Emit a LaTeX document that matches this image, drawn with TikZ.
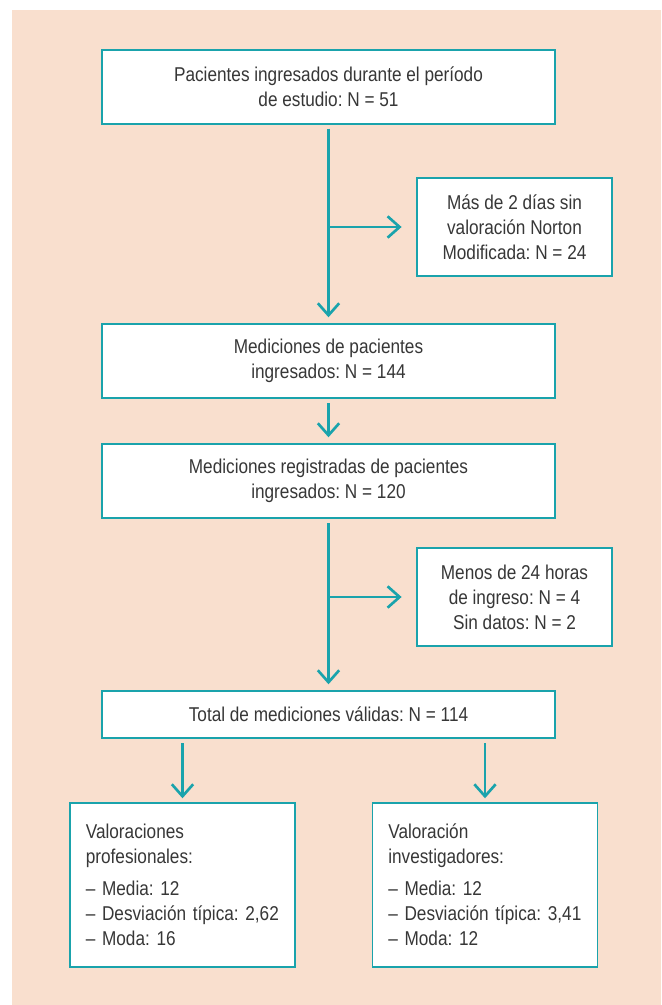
\documentclass[tikz,border=0pt]{standalone}
\usepackage{fontspec}
\setmainfont{Liberation Sans}[FakeStretch=0.86]
\usetikzlibrary{arrows.meta}

\definecolor{peach}{RGB}{249,223,206}
\definecolor{flowteal}{RGB}{26,163,172}
\definecolor{inkgray}{RGB}{55,55,55}
\frenchspacing

\begin{document}
\begin{tikzpicture}[x=0.75pt, y=-0.75pt,
  every node/.style={font=\fontsize{15}{18.75}\selectfont, text=inkgray},
  box/.style={draw=flowteal, line width=1.1pt, fill=white, align=center, inner sep=0pt},
  sidebox/.style={box, minimum width=146.25pt, minimum height=73.5pt},
  mainbox/.style={box, minimum width=339.75pt, minimum height=55.5pt},
  outbox/.style={draw=flowteal, line width=1.1pt, fill=white, align=left, inner xsep=12pt,
    text width=145pt, minimum height=123pt},
  arr/.style={-{Straight Barb[length=9pt, width=16pt]}, draw=flowteal, line width=2pt}]

% page and background
\useasboundingbox (0,0) rectangle (661,1005);
\fill[peach] (12,10) rectangle (661,1005);

% main column
\node[mainbox] (start) at (328.5, 87) {Pacientes ingresados durante el período\\ de estudio: N = 51};
\node[sidebox] (excl1) at (514.5, 227) {Más de 2 días sin\\ valoración Norton\\ Modificada: N = 24};
\node[mainbox] (meds) at (328.5, 361) {Mediciones de pacientes\\ ingresados: N = 144};
\node[mainbox] (regs) at (328.5, 481) {Mediciones registradas de pacientes\\ ingresados: N = 120};
\node[sidebox] (excl2) at (514.5, 597) {Menos de 24 horas\\ de ingreso: N = 4\\ Sin datos: N = 2};
\node[box, minimum width=339.75pt, minimum height=35.25pt] (total) at (328.5, 714.5) {Total de mediciones válidas: N = 114};

% the two results
\node[outbox] (prof) at (182.5, 885) {Valoraciones\\ profesionales:\\[5pt] -- Media: 12\\ -- Desviación típica: 2,62\\ -- Moda: 16};
\node[outbox] (inv) at (485, 885) {Valoración\\ investigadores:\\[5pt] -- Media: 12\\ -- Desviación típica: 3,41\\ -- Moda: 12};

% arrows down
\draw[arr, shorten <=3pt, shorten >=4.5pt] (start) -- (meds);
\draw[arr, shorten <=3.5pt, shorten >=4.5pt] (meds) -- (regs);
\draw[arr, shorten <=3.5pt, shorten >=4.5pt] (regs) -- (total);
\draw[arr, shorten <=3.5pt, shorten >=3pt] (prof.north |- total.south) -- (prof.north);
\draw[arr, shorten <=3.5pt, shorten >=3pt] (inv.north |- total.south) -- (inv.north);

% exclusions to the side
\draw[arr, shorten >=11pt] (start.south |- excl1.west) -- (excl1.west);
\draw[arr, shorten >=11pt] (regs.south |- excl2.west) -- (excl2.west);

\end{tikzpicture}
\end{document}
